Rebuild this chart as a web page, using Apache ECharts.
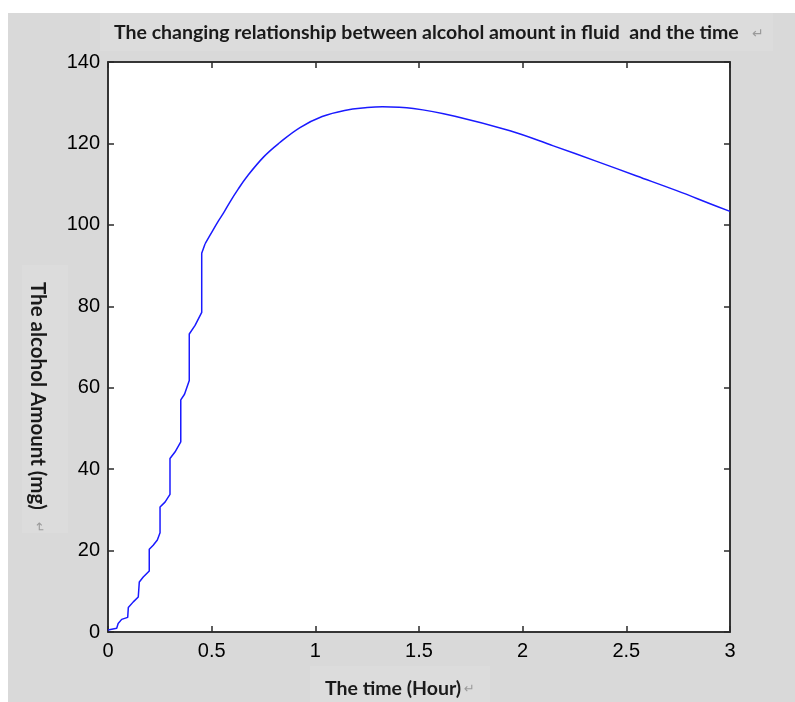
<!DOCTYPE html>
<html>
<head>
<meta charset="utf-8">
<script src="https://cdn.jsdelivr.net/npm/echarts@6/dist/echarts.min.js"></script>
<style>
html,body{margin:0;padding:0;background:#ffffff;}
#chart{width:795px;height:702px;}
</style>
</head>
<body>
<div id="chart"></div>
<script>
// Stepwise absorption phase (time in hours, alcohol in mg)
var riseTime = [
  0, 0.042, 0.049, 0.066, 0.095, 0.098, 0.122, 0.146, 0.151, 0.170, 0.199, 0.199,
  0.218, 0.238, 0.251, 0.251, 0.275, 0.299, 0.299, 0.323, 0.351, 0.351, 0.369,
  0.392, 0.392, 0.420, 0.452, 0.452, 0.468
];
var riseMg = [
  0.5, 0.9, 2.1, 3.1, 3.6, 6.0, 7.4, 8.6, 12.3, 13.5, 15.0, 20.3,
  21.3, 22.6, 24.4, 30.7, 31.9, 33.8, 42.6, 44.2, 46.7, 57.0, 58.4,
  61.8, 73.2, 75.3, 78.5, 93.0, 95.3
];
// Smooth peak and elimination phase
var curveTime = [
  0.468, 0.503, 0.532, 0.556, 0.588, 0.627, 0.668, 0.751, 0.826, 0.926, 1.033,
  1.141, 1.250, 1.324, 1.473, 1.673, 1.939, 2.148, 2.357, 2.550, 2.743, 2.904, 3.0
];
var curveMg = [
  95.3, 98.4, 100.9, 102.8, 105.6, 108.7, 111.7, 116.7, 120.1, 123.9, 126.6,
  128.1, 128.8, 129.0, 128.6, 126.7, 123.1, 119.4, 115.6, 112.0, 108.4, 105.2, 103.3
];
var xTickLabels = ['0', '0.5', '1', '1.5', '2', '2.5', '3'];
var yTickLabels = ['0', '20', '40', '60', '80', '100', '120', '140'];
var titleText = 'The changing relationship between alcohol amount in fluid  and the time';
var xAxisTitle = 'The time (Hour)';
var yAxisTitle = 'The alcohol Amount (mg)';

var risePoints = riseTime.map(function (t, i) { return [t, riseMg[i]]; });
var curvePoints = curveTime.map(function (t, i) { return [t, curveMg[i]]; });

var tickFont = { fontFamily: '"Liberation Sans", Arial, sans-serif', fontSize: 20, color: '#000' };
var frameLine = { show: true, onZero: false, lineStyle: { color: '#2a2a2a', width: 1.5 } };
var tickIn = { show: true, inside: true, length: 6, lineStyle: { color: '#2a2a2a', width: 1.5 } };
var labelFont = 'bold 19.5px Lato, "Open Sans", sans-serif';
var yLabelFont = 'bold 20.5px Lato, "Open Sans", sans-serif';

var chart = echarts.init(document.getElementById('chart'), null, { renderer: 'canvas' });
chart.setOption({
  backgroundColor: '#ffffff',
  animation: false,
  graphic: [
    { type: 'rect', z: -10, shape: { x: 8, y: 13, width: 787, height: 689 }, style: { fill: '#d9d9d9' } },
    { type: 'rect', z: -9, shape: { x: 100, y: 13, width: 673, height: 38 }, style: { fill: '#dcdcdc' } },
    { type: 'rect', z: -9, shape: { x: 22, y: 265, width: 46, height: 268 }, style: { fill: '#dcdcdc' } },
    { type: 'rect', z: -9, shape: { x: 310, y: 666, width: 180, height: 36 }, style: { fill: '#dcdcdc' } },
    { type: 'text', x: 114, y: 33, style: { text: titleText, font: labelFont, fill: '#1a1a1a', textVerticalAlign: 'middle' } },
    { type: 'text', x: 752, y: 34, style: { text: '\u21B5', font: '14px "DejaVu Sans", sans-serif', fill: '#9a9a9a', textVerticalAlign: 'middle' } },
    { type: 'text', x: 325, y: 689, style: { text: xAxisTitle, font: labelFont, fill: '#1a1a1a', textVerticalAlign: 'middle' } },
    { type: 'text', x: 464, y: 690, style: { text: '\u21B5', font: '13px "DejaVu Sans", sans-serif', fill: '#9a9a9a', textVerticalAlign: 'middle' } },
    { type: 'text', x: 38, y: 282, rotation: -Math.PI / 2, style: { text: yAxisTitle, font: yLabelFont, fill: '#1a1a1a', textVerticalAlign: 'middle' } },
    { type: 'text', x: 38, y: 522, rotation: -Math.PI / 2, style: { text: '\u21B5', font: '13px "DejaVu Sans", sans-serif', fill: '#9a9a9a', textVerticalAlign: 'middle' } }
  ],
  grid: { left: 108, right: 65, top: 62, bottom: 70, show: true, backgroundColor: '#ffffff', borderColor: '#2a2a2a', borderWidth: 1.5 },
  xAxis: [
    {
      type: 'value', min: 0, max: 3, interval: 0.5, position: 'bottom',
      axisLine: frameLine, axisTick: tickIn, splitLine: { show: false },
      axisLabel: Object.assign({ margin: 9, formatter: function (v) { return xTickLabels[Math.round(v / 0.5)]; } }, tickFont)
    },
    {
      type: 'value', min: 0, max: 3, interval: 0.5, position: 'top',
      axisLine: frameLine, axisTick: tickIn, splitLine: { show: false }, axisLabel: { show: false }
    }
  ],
  yAxis: [
    {
      type: 'value', min: 0, max: 140, interval: 20, position: 'left',
      axisLine: frameLine, axisTick: tickIn, splitLine: { show: false },
      axisLabel: Object.assign({ margin: 8, formatter: function (v) { return yTickLabels[Math.round(v / 20)]; } }, tickFont)
    },
    {
      type: 'value', min: 0, max: 140, interval: 20, position: 'right',
      axisLine: frameLine, axisTick: tickIn, splitLine: { show: false }, axisLabel: { show: false }
    }
  ],
  series: [
    {
      type: 'line', data: risePoints, showSymbol: false, symbol: 'none', smooth: false,
      lineStyle: { color: '#1a1aff', width: 1.5 }
    },
    {
      type: 'line', data: curvePoints, showSymbol: false, symbol: 'none', smooth: 0.4,
      lineStyle: { color: '#1a1aff', width: 1.5 }
    }
  ]
});
</script>
</body>
</html>
